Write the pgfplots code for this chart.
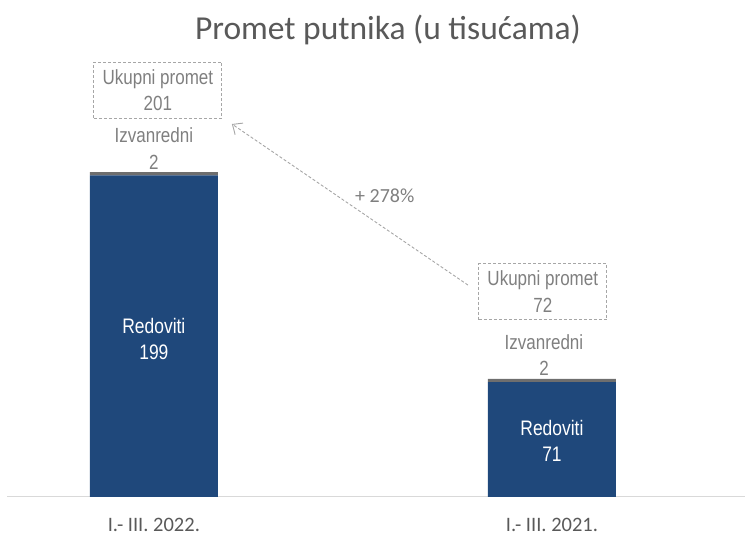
\documentclass[border=0pt]{standalone}
\usepackage{pgfplots}
\pgfplotsset{compat=1.18}
\usepackage{fontspec}
\setmainfont{Liberation Sans}
\newfontfamily\calibri{Carlito}
\newfontfamily\narrow[FakeStretch=0.83]{Liberation Sans}
\usetikzlibrary{arrows.meta}
\definecolor{navy}{HTML}{1F487B}
\definecolor{topgray}{HTML}{6E6E6E}
\definecolor{txtgray}{HTML}{7F7F7F}
\definecolor{boxgray}{HTML}{A6A6A6}
\definecolor{titlegray}{HTML}{595959}
\tikzset{
  anno/.style={align=center, text=txtgray, font=\narrow\fontsize{20.5}{26.5}\selectfont},
  annobox/.style={anno, draw=boxgray, dash pattern=on 3pt off 2pt, line width=0.8pt, minimum width=128pt, minimum height=56pt, inner sep=0pt},
}
\begin{document}
\begin{tikzpicture}[x=1pt,y=1pt]
\useasboundingbox (0,0) rectangle (745,536);
\begin{axis}[
  at={(7pt,39pt)}, anchor=south west,
  scale only axis, width=738pt, height=497pt,
  xmin=-0.369, xmax=1.485, ymin=0, ymax=307.4,
  clip=false,
  axis x line*=bottom, axis y line=none,
  x axis line style={draw=black!15, line width=1pt, -},
  xtick={0,1}, xticklabels={I.- III. 2022., I.- III. 2021.},
  tick style={draw=none},
  xticklabel style={anchor=center, yshift=-28pt, font=\calibri\fontsize{20.5}{20.5}\selectfont, text=titlegray},
  ybar stacked, bar width=128pt,
]
\addplot[fill=navy, draw=none] coordinates {(0,199) (1,71)};
\addplot[fill=topgray, draw=none] coordinates {(0,2) (1,2)};

\coordinate (r1) at (axis cs:0,97.7);
\coordinate (r2) at (axis cs:1,34.6);
\node[anno] at (axis cs:0,215.5) {Izvanredni\\2};
\node[anno] at (axis cs:0.98,87.8) {Izvanredni\\2};
\node[annobox] at (axis cs:0.01,251.7) {Ukupni promet\\201};
\node[annobox] at (axis cs:0.977,127.1) {Ukupni promet\\72};
\draw[boxgray, dash pattern=on 3pt off 2pt, line width=0.9pt, -{Straight Barb[length=8pt, width=14pt]}]
  (axis cs:0.789,131.1) -- (axis cs:0.196,230.7);
\node[text=txtgray, font=\calibri\fontsize{20}{20}\selectfont] at (axis cs:0.580,186.1) {+ 278\%};
\node[text=titlegray, font=\calibri\fontsize{33.5}{33.5}\selectfont] at (axis cs:0.588,288.8) {Promet putnika (u tisućama)};
\end{axis}
\node[align=center, text=white, font=\narrow\fontsize{21}{26.5}\selectfont] at (r1) {Redoviti\\199};
\node[align=center, text=white, font=\narrow\fontsize{21}{26.5}\selectfont] at (r2) {Redoviti\\71};
\end{tikzpicture}
\end{document}
